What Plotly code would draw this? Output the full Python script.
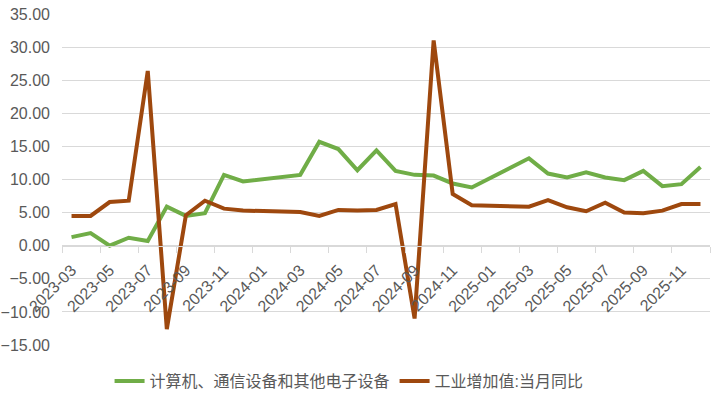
import plotly.graph_objects as go

months = ["2023-03","2023-04","2023-05","2023-06","2023-07","2023-08","2023-09","2023-10","2023-11","2023-12",
          "2024-01","2024-02","2024-03","2024-04","2024-05","2024-06","2024-07","2024-08","2024-09","2024-10","2024-11","2024-12",
          "2025-01","2025-02","2025-03","2025-04","2025-05","2025-06","2025-07","2025-08","2025-09","2025-10","2025-11","2025-12"]

electronics = [1.3, 1.9, 0.0, 1.2, 0.7, 5.9, 4.5, 4.9, 10.7, 9.7,
               None, None, 10.7, 15.7, 14.6, 11.4, 14.4, 11.3, 10.7, 10.6, 9.4, 8.8,
               None, None, 13.2, 10.9, 10.3, 11.1, 10.3, 9.9, 11.3, 9.0, 9.3, 11.9]

industry = [4.5, 4.5, 6.6, 6.8, 26.4, -12.6, 4.6, 6.8, 5.6, 5.3,
            None, None, 5.1, 4.5, 5.4, 5.3, 5.4, 6.3, -11.0, 31.0, 7.8, 6.1,
            None, None, 5.9, 6.9, 5.8, 5.2, 6.5, 5.0, 4.9, 5.3, 6.3, 6.3]

series_names = ["计算机、通信设备和其他电子设备", "工业增加值:当月同比"]
colors = ["#70AD47", "#9E480E"]

idx = list(range(len(months)))

fig = go.Figure()
for name, vals, c in zip(series_names, [electronics, industry], colors):
    fig.add_trace(go.Scatter(x=idx, y=vals, mode="lines", name=name, connectgaps=True,
                             line=dict(color=c, width=4, shape="linear"),
                             hoverinfo="skip"))

ymin, ymax = -15, 35
FONT = "Liberation Sans, Noto Sans CJK SC, sans-serif"
fig.update_layout(
    width=711, height=398,
    margin=dict(l=62, r=1, t=14, b=53, autoexpand=False),
    paper_bgcolor="white", plot_bgcolor="white",
    font=dict(family=FONT, size=16, color="#595959"),
    showlegend=True,
    legend=dict(orientation="h", x=0.443, xanchor="center",
                y=-0.109, yanchor="middle", font=dict(size=16, color="#595959"),
                tracegroupgap=0, bgcolor="rgba(0,0,0,0)"),
    xaxis=dict(range=[-0.5, len(months) - 0.5], tickmode="array",
               tickvals=idx[::2], ticktext=months[::2], tickangle=-45,
               ticks="", showgrid=False, zeroline=False,
               showline=True, linecolor="#D9D9D9", linewidth=1,
               anchor="free", position=(0 - ymin) / (ymax - ymin),
               automargin=False, ticklabelstandoff=8,
               minor=dict(tickmode="array",
                          tickvals=[i - 0.5 for i in range(0, len(months) + 1, 2)],
                          ticks="outside", ticklen=6, tickcolor="#D9D9D9", tickwidth=1,
                          showgrid=False),
               tickfont=dict(size=16, color="#595959")),
    yaxis=dict(range=[ymin, ymax], dtick=5, tick0=0, tickformat=".2f",
               showgrid=True, gridcolor="#D9D9D9", gridwidth=1,
               zeroline=False, showline=False, ticks="",
               automargin=False, ticklabelstandoff=11,
               tickfont=dict(size=16, color="#595959")),
)

fig.write_html("out.html", config={"displayModeBar": False, "staticPlot": True},
               post_script="document.body.style.margin='0';")
